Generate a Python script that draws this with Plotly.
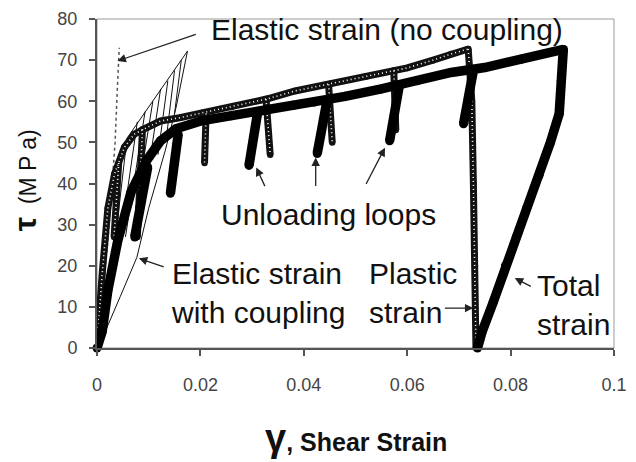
import plotly.graph_objects as go

# ---------------- data ----------------
# Total strain (filled black markers): loading envelope
total_x = [0, 0.001, 0.0021, 0.004, 0.0066, 0.0096, 0.0123, 0.0153, 0.0204, 0.026, 0.0313,
           0.038, 0.042, 0.048, 0.055, 0.062, 0.0685, 0.075, 0.082, 0.0902]
total_y = [0, 4, 14, 26, 38, 45.6, 50.4, 53.3, 55.3, 56.5, 57.3,
           59.0, 59.8, 61.2, 63.0, 65.0, 67.0, 68.2, 70.2, 72.6]
# Total strain: final unloading
total_unload_x = [0.0902, 0.0898, 0.0894, 0.0877, 0.0855, 0.0831, 0.0811, 0.079, 0.0766, 0.0745, 0.0736]
total_unload_y = [72.6, 65, 57, 50, 42, 34, 27, 20, 11, 4, 0]
# Total strain: unloading loops (top point -> lowest point)
total_loop_top_x = [0.0098, 0.0157, 0.0311, 0.0445, 0.0585, 0.0728]
total_loop_top_y = [44.0, 52.0, 57.5, 60.2, 64.0, 67.5]
total_loop_bot_x = [0.0073, 0.0142, 0.0294, 0.0426, 0.0566, 0.0709]
total_loop_bot_y = [27.0, 37.6, 44.4, 47.3, 50.4, 54.5]

# Plastic strain (open markers): loading envelope
plastic_x = [0, 0.0004, 0.001, 0.0021, 0.0034, 0.0053, 0.0072, 0.0095, 0.0123, 0.016, 0.0204,
             0.026, 0.033, 0.0383, 0.045, 0.052, 0.060, 0.065, 0.0685, 0.0718]
plastic_y = [0, 8, 18, 34, 42.4, 48.8, 52, 53.5, 55.2, 56, 57.2,
             58.6, 60.6, 62.5, 64.2, 66, 68.1, 70, 71.5, 72.7]
# Plastic strain: final unloading
plastic_drop_x = [0.0718, 0.0725, 0.0728, 0.0731, 0.0733]
plastic_drop_y = [72.7, 60, 40, 20, 0]
# Plastic strain: unloading loops
plastic_loop_top_x = [0.0042, 0.0088, 0.0211, 0.0327, 0.0448, 0.0574]
plastic_loop_top_y = [45.0, 53.2, 57.0, 60.5, 64.1, 67.5]
plastic_loop_bot_x = [0.0033, 0.0078, 0.0208, 0.0335, 0.0455, 0.0578]
plastic_loop_bot_y = [27.0, 27.0, 45.0, 47.0, 50.0, 53.0]

# Elastic strain with coupling (thin lines)
elastic_c_x = [0, 0.0009, 0.0045, 0.0077, 0.01, 0.0132, 0.0153, 0.0175]
elastic_c_y = [0, 2, 12.5, 22, 34, 48, 58.5, 72.2]
elastic_env_x = [0.0058, 0.0175]
elastic_env_y = [51.0, 72.2]
hatch_top_x = [0.0163, 0.0150, 0.0137, 0.0123, 0.0108, 0.0093, 0.0078, 0.0058]
hatch_top_y = [70.0, 67.5, 65.0, 63.0, 60.0, 57.5, 55.0, 51.0]
hatch_bot_x = [0.0150, 0.0135, 0.0118, 0.0098, 0.0075, 0.0055, 0.0038, 0.0025]
hatch_bot_y = [57.0, 52.0, 47.0, 42.0, 34.0, 27.0, 20.0, 15.0]

# Elastic strain, no coupling (dotted)
elastic_nc_x = [0, 0.0008, 0.0015, 0.0021, 0.0028, 0.0035, 0.0039, 0.0043]
elastic_nc_y = [0, 10, 19, 26, 38, 50, 62, 73]

x_ticks = [0, 0.02, 0.04, 0.06, 0.08, 0.1]
x_tick_labels = ["0", "0.02", "0.04", "0.06", "0.08", "0.1"]
y_ticks = [0, 10, 20, 30, 40, 50, 60, 70, 80]
y_tick_labels = [str(v) for v in y_ticks]


def segments(x0, y0, x1, y1):
    xs, ys = [], []
    for a, b, c, d in zip(x0, y0, x1, y1):
        xs += [a, c, None]
        ys += [b, d, None]
    return xs, ys


fig = go.Figure()

# thin elastic lines
hx, hy = segments(hatch_top_x, hatch_top_y, hatch_bot_x, hatch_bot_y)
thin = dict(color="#111", width=1)
fig.add_trace(go.Scatter(x=elastic_c_x, y=elastic_c_y, mode="lines", line=thin, cliponaxis=False))
fig.add_trace(go.Scatter(x=elastic_env_x, y=elastic_env_y, mode="lines", line=thin, cliponaxis=False))
fig.add_trace(go.Scatter(x=hx, y=hy, mode="lines", line=thin, cliponaxis=False))
fig.add_trace(go.Scatter(x=elastic_nc_x, y=elastic_nc_y, mode="lines",
                         line=dict(color="#555", width=1.5, dash="dot"), cliponaxis=False))

# plastic strain (open markers look: black band with white specks)
plx, ply = segments(plastic_loop_top_x, plastic_loop_top_y, plastic_loop_bot_x, plastic_loop_bot_y)
pl_all_x = plastic_x + [None] + plastic_drop_x + [None] + plx
pl_all_y = plastic_y + [None] + plastic_drop_y + [None] + ply
fig.add_trace(go.Scatter(x=pl_all_x, y=pl_all_y, mode="lines+markers",
                         line=dict(color="#111", width=7),
                         marker=dict(symbol="circle", size=6.5, color="#111"), cliponaxis=False))
fig.add_trace(go.Scatter(x=pl_all_x, y=pl_all_y, mode="lines",
                         line=dict(color="white", width=1.6, dash="1px,3px"), cliponaxis=False))

# total strain (filled diamonds)
tlx, tly = segments(total_loop_top_x, total_loop_top_y, total_loop_bot_x, total_loop_bot_y)
t_all_x = total_x + [None] + total_unload_x + [None] + tlx
t_all_y = total_y + [None] + total_unload_y + [None] + tly
fig.add_trace(go.Scatter(x=t_all_x, y=t_all_y, mode="lines+markers",
                         line=dict(color="#000", width=9.5),
                         marker=dict(symbol="circle", size=9, color="#000"), cliponaxis=False))

W, H = 636, 462
L, R, T, B = 97, 9, 18, 114


def px(xp):
    return (xp - L) / (W - L - R)


def py(yp):
    return (H - B - yp) / (H - T - B)


lab_font = dict(family="Liberation Sans, Arial, sans-serif", size=30, color="#111")
ann = []
texts = [
    ("Elastic strain (no coupling)", 212, 29),
    ("Unloading loops", 222, 214),
    ("Elastic strain<br>with coupling", 171, 293),
    ("Plastic<br>strain", 374, 293),
    ("Total<br>strain", 546, 305),
]
for t, xx, yy in texts:
    ann.append(dict(text=t, x=px(xx), y=py(yy), xref="paper", yref="paper",
                    xanchor="left", yanchor="middle", align="left",
                    showarrow=False, font=lab_font))

# arrows: (head_x, head_y, tail_x, tail_y) in data units
arrows = [
    (0.00396, 69.8, 0.0194, 76.4),
    (0.0308, 43.9, 0.0326, 39.0),
    (0.0423, 46.3, 0.0423, 39.0),
    (0.0557, 48.7, 0.0519, 39.5),
    (0.0081, 21.8, 0.0132, 19.6),
    (0.0728, 9.7, 0.0670, 9.7),
    (0.0808, 17.0, 0.0842, 14.8),
]
for hx_, hy_, tx_, ty_ in arrows:
    ann.append(dict(text="", x=hx_, y=hy_, ax=tx_, ay=ty_, xref="x", yref="y",
                    axref="x", ayref="y", showarrow=True, arrowhead=2, arrowsize=1.3,
                    arrowwidth=1.3, arrowcolor="#222", standoff=0, startstandoff=0))

# axis titles
ann.append(dict(text="<b><span style='font-size:32px'>τ</span></b>  (M P a)",
                x=px(23), y=py(180), xref="paper", yref="paper", textangle=-90,
                xanchor="center", yanchor="middle", showarrow=False,
                font=dict(family="Liberation Sans, Arial, sans-serif", size=23, color="#111")))
ann.append(dict(text="<b><span style='font-size:38px'>γ</span>, Shear Strain</b>",
                x=px(362), y=py(438), xref="paper", yref="paper",
                xanchor="center", yanchor="middle", showarrow=False,
                font=dict(family="Liberation Sans, Arial, sans-serif", size=25, color="#111")))

axis_common = dict(showgrid=False, zeroline=False, showline=True, linecolor="#555", linewidth=2,
                   ticks="outside", ticklen=6, tickwidth=1.5, tickcolor="#555",
                   ticklabeloverflow="allow",
                   tickfont=dict(family="Liberation Sans, Arial, sans-serif", size=18, color="#444"))

fig.update_layout(
    width=W, height=H,
    margin=dict(l=L, r=R, t=T, b=B),
    paper_bgcolor="white", plot_bgcolor="white",
    showlegend=False,
    xaxis=dict(range=[0, 0.1], tickvals=x_ticks, ticktext=x_tick_labels,
               ticklabelstandoff=13, **axis_common),
    yaxis=dict(range=[0, 80], tickvals=y_ticks, ticktext=y_tick_labels,
               ticklabelstandoff=8, **axis_common),
    annotations=ann,
    shapes=[dict(type="rect", xref="paper", yref="paper", x0=0, x1=1, y0=0, y1=1,
                 line=dict(color="#999", width=1), layer="below")],
)

fig.write_html("out.html")
